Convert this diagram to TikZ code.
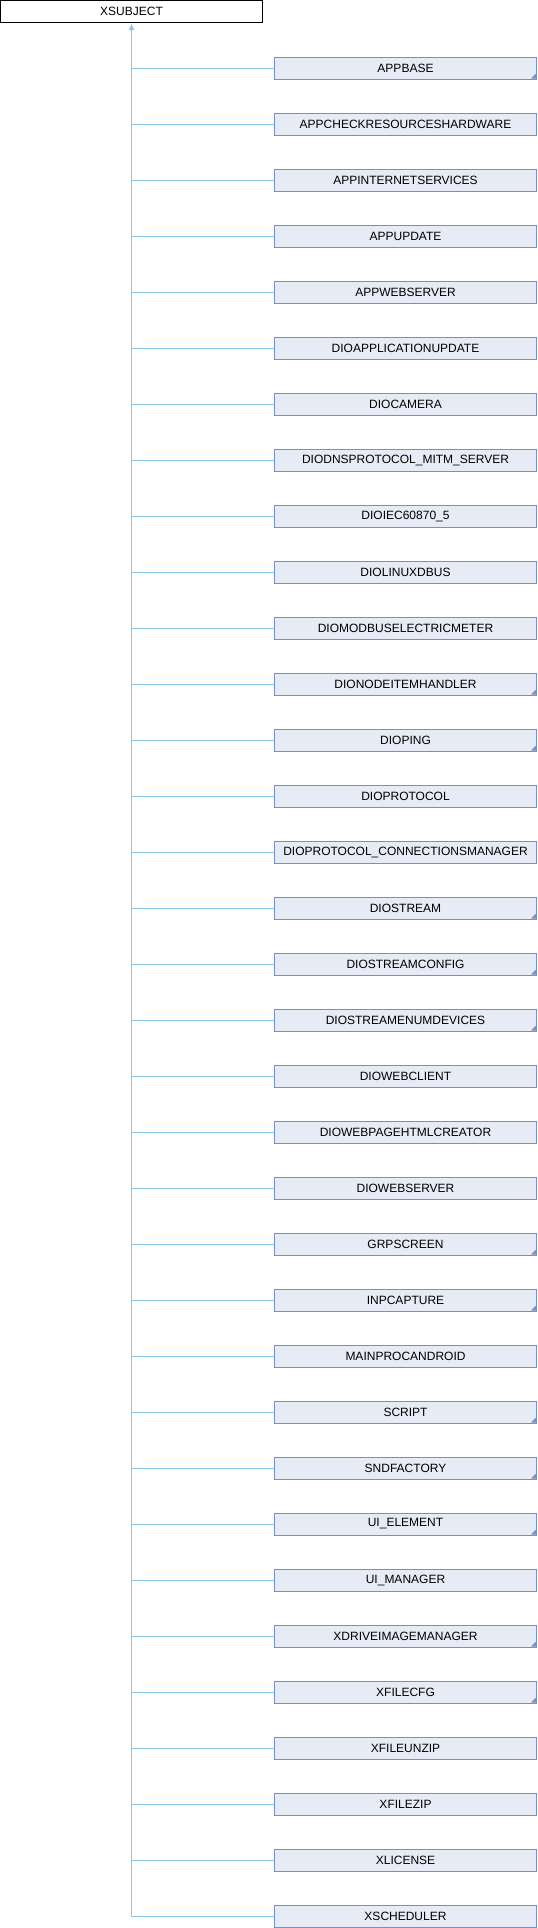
\documentclass[tikz,border=0pt]{standalone}
\usepackage{fontspec}
\setmainfont{Liberation Sans}
\usetikzlibrary{positioning, arrows.meta}

\definecolor{edgeblue}{HTML}{8DC6EC}
\definecolor{clsline}{HTML}{7390C9}
\definecolor{clsfill}{HTML}{E7EBF5}

\tikzset{
	base/.style={draw=black, fill=white, line width=1pt, minimum width=262pt, minimum height=22pt, inner sep=0pt, font=\fontsize{12}{14}\selectfont},
	cls/.style={base, draw=clsline, fill=clsfill},
	edge/.style={draw=edgeblue, line width=1pt},
	more/.style={fill=clsline}
}

\begin{document}
\begin{tikzpicture}[x=1pt, y=1pt]
	\useasboundingbox (0,0) rectangle (538,-1928);
	
	\node[base] (xs) at (131.5,-11.5) {XSUBJECT};
	\coordinate (c0) at (405.5,-56.5);
	
	\foreach \name [count=\i, remember=\i as \j (initially 0)] in {APPBASE, APPCHECKRESOURCESHARDWARE, APPINTERNETSERVICES, APPUPDATE, APPWEBSERVER, DIOAPPLICATIONUPDATE, DIOCAMERA, DIODNSPROTOCOL\_MITM\_SERVER, DIOIEC60870\_5, DIOLINUXDBUS, DIOMODBUSELECTRICMETER, DIONODEITEMHANDLER, DIOPING, DIOPROTOCOL, DIOPROTOCOL\_CONNECTIONSMANAGER, DIOSTREAM, DIOSTREAMCONFIG, DIOSTREAMENUMDEVICES, DIOWEBCLIENT, DIOWEBPAGEHTMLCREATOR, DIOWEBSERVER, GRPSCREEN, INPCAPTURE, MAINPROCANDROID, SCRIPT, SNDFACTORY, UI\_ELEMENT, UI\_MANAGER, XDRIVEIMAGEMANAGER, XFILECFG, XFILEUNZIP, XFILEZIP, XLICENSE, XSCHEDULER}
	{
		\ifnum\i=1
			\node[cls, below=0pt of c0] (c\i) {\name};
		\else
			\node[cls, below=33pt of c\j] (c\i) {\name};
		\fi
	}
	
	% classes with hidden children
	\foreach \i in {1,12,13,16,17,18,22,23,25,26,27,29,30}
		\fill[more] ([shift={(-1,1)}]c\i.south east) -- ++(-5,0) -- ++(5,5) -- cycle;
	
	\draw[edge, {Triangle[length=6pt, width=5pt]}-, shorten <=1pt] (xs.south) |- (c34.west);
	\foreach \i in {1,...,33}
		\draw[edge] (c\i.west) -- (c\i.west -| xs.south);
\end{tikzpicture}
\end{document}
